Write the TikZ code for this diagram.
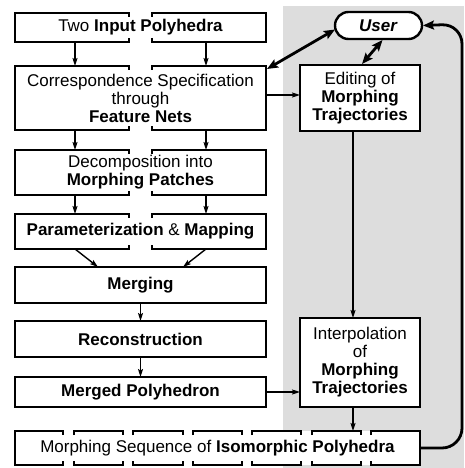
\documentclass[tikz,border=0pt]{standalone}
\usepackage{fontspec}
\setmainfont{Liberation Sans}
\usetikzlibrary{arrows.meta,calc}
\newcommand\fs{\fontsize{17}{18}\selectfont}
\definecolor{bggray}{RGB}{221,221,221}
% split border: node, line style, list of segments a/b (x extents)
\newcommand\segbox[3]{%
  \foreach \a/\b in {#3} {
    \draw[#2] let \p1=(#1.north), \p2=(#1.south) in
      (\a*1pt,\y1-4pt) -- (\a*1pt,\y1) -- (\b*1pt,\y1) -- (\b*1pt,\y1-4pt)
      (\a*1pt,\y2+4pt) -- (\a*1pt,\y2) -- (\b*1pt,\y2) -- (\b*1pt,\y2+4pt);
  }
  \draw[#2] (#1.north west) -- (#1.south west) (#1.north east) -- (#1.south east);
}
\begin{document}
\begin{tikzpicture}[x=1pt,y=-1pt,
  box/.style={rectangle, inner sep=0pt, outer sep=0pt, align=center, font=\fs, fill=white},
  thinline/.style={line width=1.1pt},
  thickline/.style={line width=2.4pt},
  arr/.style={line width=1.4pt, -{Stealth[length=8pt,width=5pt,inset=1.5pt]}},
  bigarr/.style={line width=2.8pt, {Stealth[length=11pt,width=9pt,inset=2pt]}-{Stealth[length=11pt,width=9pt,inset=2pt]}},
  looparr/.style={line width=2.8pt, rounded corners=20pt, -{Stealth[length=11pt,width=9pt,inset=2pt]}}
]
\useasboundingbox (0,0) rectangle (464,468);
\fill[bggray] (283,6) rectangle (464,468);

% helper x positions
\coordinate (cl) at (75,0);
\coordinate (cr) at (206,0);
\coordinate (ml) at (98,0);
\coordinate (mr) at (183,0);
\coordinate (ex) at (353,0);
\coordinate (cy) at (0,95);

% left column
\node[box, minimum width=251pt, minimum height=29pt] (two) at (140.5,27.5)
  {Two \textbf{Input Polyhedra}};
\node[box, minimum width=251pt, minimum height=64pt] (corr) at (140.5,98)
  {Correspondence Specification\\through\\\textbf{Feature Nets}};
\node[box, minimum width=251pt, minimum height=45pt] (decomp) at (140.5,172.5)
  {Decomposition into\\\textbf{Morphing Patches}};
\node[box, minimum width=251pt, minimum height=35pt] (param) at (140.5,231.5)
  {\textbf{Parameterization} \& \textbf{Mapping}};
\node[box, minimum width=251pt, minimum height=36pt, draw, thinline] (merging) at (140.5,285)
  {\textbf{Merging}};
\node[box, minimum width=251pt, minimum height=36pt, draw, thinline] (recon) at (140.5,339)
  {\textbf{Reconstruction}};
\node[box, minimum width=251pt, minimum height=30pt, draw, thickline] (merged) at (140.5,392)
  {\textbf{Merged Polyhedron}};
\node[box, minimum width=405pt, minimum height=34pt] (seq) at (217.5,448)
  {Morphing Sequence of \textbf{Isomorphic Polyhedra}};

% right column
\node[box, minimum width=87pt, minimum height=27pt, draw, thickline, rounded corners=13.5pt] (user) at (378.5,25.5)
  {\textbf{\itshape User}};
\node[box, minimum width=120pt, minimum height=66pt, draw, thinline] (edit) at (360,98)
  {Editing of\\\textbf{Morphing}\\\textbf{Trajectories}};
\node[box, minimum width=120pt, minimum height=89pt, draw, thinline] (interp) at (360,362.5)
  {Interpolation\\of\\\textbf{Morphing}\\\textbf{Trajectories}};

% split borders
\segbox{two}{thickline}{15/129,152/266}
\segbox{corr}{thinline}{15/129,152/266}
\segbox{decomp}{thinline}{15/129,152/266}
\segbox{param}{thinline}{15/129,152/266}
\segbox{seq}{thickline}{15/63,74/123,133/183,193/242,252/301,312/361,371/420}

% connectors
\draw[arr] (two.south -| cl) -- (corr.north -| cl);
\draw[arr] (two.south -| cr) -- (corr.north -| cr);
\draw[arr] (corr.south -| cl) -- (decomp.north -| cl);
\draw[arr] (corr.south -| cr) -- (decomp.north -| cr);
\draw[arr] (decomp.south -| cl) -- (param.north -| cl);
\draw[arr] (decomp.south -| cr) -- (param.north -| cr);
\draw[arr] (param.south -| cl) -- (merging.north -| ml);
\draw[arr] (param.south -| cr) -- (merging.north -| mr);
\draw[arr] (merging.south) -- (recon.north);
\draw[arr] (recon.south) -- (merged.north);
\draw[arr] (corr.east |- cy) -- (edit.west |- cy);
\draw[arr] (merged.east) -- (interp.west |- merged.east);
\draw[arr] (edit.south -| ex) -- (interp.north -| ex);
\draw[arr] (interp.south -| ex) -- (seq.north -| ex);

\draw[bigarr] ($(corr.north east)+(1,3)$) -- ($(user.west)+(0,4)$);
\draw[bigarr] ($(user.south)+(4,1)$) -- ($(edit.north)+(2,-1)$);
\draw[looparr] (seq.east) -- (462,448) -- (462,24) -- ($(user.east)+(1,0)$);
\end{tikzpicture}
\end{document}
